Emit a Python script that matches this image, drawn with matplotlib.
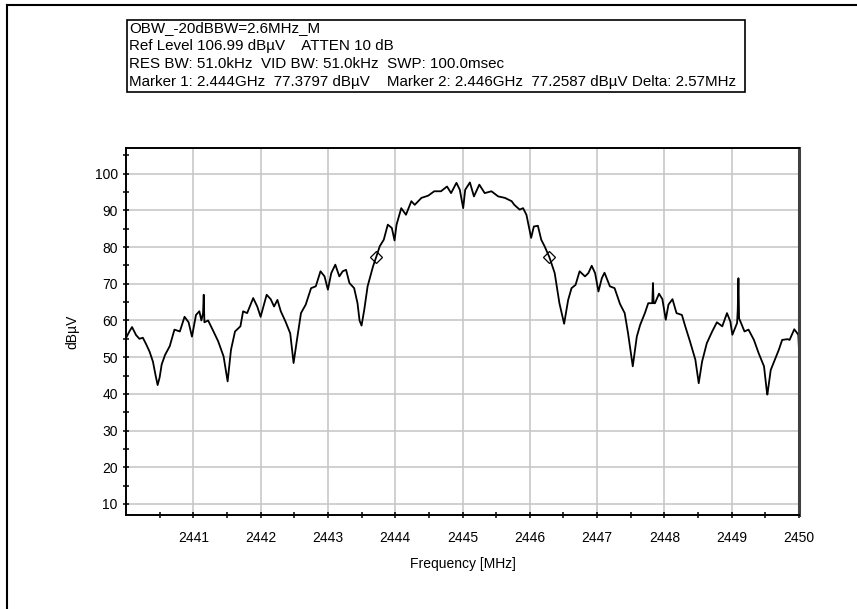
import matplotlib
matplotlib.use("Agg")
import matplotlib.pyplot as plt
from matplotlib.lines import Line2D
from matplotlib.patches import Rectangle
import numpy as np

plt.rcParams['font.family'] = ['Liberation Sans', 'DejaVu Sans']

# trace (MHz, dBuV)
freq_mhz = [
    2440.00, 2440.05, 2440.09, 2440.15, 2440.20, 2440.25, 2440.30, 2440.35, 2440.40, 2440.44,
    2440.47, 2440.50, 2440.53, 2440.58, 2440.65, 2440.72, 2440.80, 2440.87, 2440.93, 2440.98,
    2441.04, 2441.09, 2441.12, 2441.145, 2441.155, 2441.165, 2441.22, 2441.30, 2441.37, 2441.45,
    2441.51, 2441.56, 2441.62, 2441.70, 2441.74, 2441.80, 2441.89, 2441.95, 2442.00, 2442.09,
    2442.15, 2442.20, 2442.25, 2442.30, 2442.37, 2442.44, 2442.49, 2442.54, 2442.60, 2442.67,
    2442.75, 2442.82, 2442.89, 2442.95, 2443.00, 2443.05, 2443.11, 2443.17, 2443.22, 2443.27,
    2443.32, 2443.39, 2443.44, 2443.47, 2443.50, 2443.54, 2443.59, 2443.67, 2443.72, 2443.77,
    2443.83, 2443.89, 2443.95, 2443.99, 2444.02, 2444.09, 2444.16, 2444.24, 2444.29, 2444.39,
    2444.49, 2444.58, 2444.68, 2444.77, 2444.83, 2444.91, 2444.96, 2445.01, 2445.04, 2445.11,
    2445.17, 2445.25, 2445.33, 2445.43, 2445.53, 2445.63, 2445.73, 2445.77, 2445.85, 2445.90,
    2445.95, 2446.02, 2446.06, 2446.12, 2446.17, 2446.22, 2446.29, 2446.37, 2446.44, 2446.51,
    2446.57, 2446.62, 2446.68, 2446.74, 2446.82, 2446.87, 2446.92, 2446.97, 2447.02, 2447.07,
    2447.11, 2447.19, 2447.26, 2447.34, 2447.41, 2447.46, 2447.53, 2447.59, 2447.64, 2447.71,
    2447.76, 2447.82, 2447.83, 2447.84, 2447.86, 2447.92, 2447.97, 2448.02, 2448.06, 2448.12,
    2448.18, 2448.26, 2448.31, 2448.38, 2448.46, 2448.51, 2448.56, 2448.63, 2448.71, 2448.78,
    2448.86, 2448.93, 2448.98, 2449.01, 2449.08, 2449.09, 2449.10, 2449.11, 2449.13, 2449.19,
    2449.25, 2449.33, 2449.40, 2449.48, 2449.52, 2449.53, 2449.58, 2449.63, 2449.70, 2449.75,
    2449.83, 2449.86, 2449.93, 2449.99, 2450.00,
]
level_dbuv = [
    55.2, 57.0, 58.2, 56.0, 55.0, 55.3, 53.5, 51.5, 48.8, 45.0,
    42.4, 44.5, 48.0, 50.6, 53.0, 57.5, 57.0, 61.0, 59.5, 55.6,
    61.5, 62.5, 60.0, 62.0, 67.0, 59.5, 60.0, 57.0, 54.3, 50.2,
    43.4, 52.0, 57.0, 58.4, 62.5, 62.0, 66.1, 63.8, 61.0, 67.0,
    65.8, 63.8, 65.6, 62.5, 59.7, 56.5, 48.4, 54.7, 62.0, 64.3,
    68.8, 69.3, 73.4, 72.0, 68.4, 72.9, 75.2, 72.0, 73.4, 73.8,
    70.2, 68.8, 64.7, 60.0, 58.6, 62.9, 69.3, 74.7, 77.4, 80.2,
    82.0, 86.1, 85.2, 81.8, 86.1, 90.6, 88.8, 92.5, 91.5, 93.4,
    94.0, 95.2, 95.2, 96.5, 94.7, 97.5, 95.6, 90.6, 95.6, 97.6,
    93.8, 97.0, 94.7, 95.2, 93.8, 93.4, 92.5, 91.5, 90.2, 90.6,
    88.8, 82.5, 85.6, 85.8, 82.0, 80.2, 77.3, 72.9, 64.7, 59.1,
    65.6, 68.8, 69.7, 73.4, 72.0, 72.9, 74.9, 72.9, 67.9, 71.5,
    73.0, 69.3, 68.8, 64.5, 62.0, 56.5, 47.5, 55.6, 58.8, 62.0,
    64.7, 64.7, 70.2, 64.7, 64.7, 67.3, 65.8, 60.2, 64.3, 65.8,
    62.0, 61.5, 58.4, 54.3, 49.3, 42.9, 48.8, 53.8, 57.0, 59.5,
    58.4, 62.0, 59.7, 56.1, 59.3, 63.0, 71.5, 60.5, 59.7, 57.0,
    57.5, 54.7, 51.1, 47.5, 41.0, 39.8, 46.5, 48.8, 52.0, 54.7,
    54.9, 54.7, 57.6, 56.1, 52.0,
]

marker_freq = [2443.72, 2446.29]
marker_level = [77.38, 77.26]

info_lines = [
    "OBW_-20dBBW=2.6MHz_M",
    "Ref Level 106.99 dB\u00b5V    ATTEN 10 dB",
    "RES BW: 51.0kHz  VID BW: 51.0kHz  SWP: 100.0msec",
    "Marker 1: 2.444GHz  77.3797 dB\u00b5V    Marker 2: 2.446GHz  77.2587 dB\u00b5V Delta: 2.57MHz",
]

W, H = 857, 609
fig = plt.figure(figsize=(W / 100, H / 100), dpi=100, facecolor="white")

# outer frame (only left and top edges show in the crop)
fig.add_artist(Line2D([7 / W, 7 / W], [0, 1 - 5 / H], color="black", lw=1.5))
fig.add_artist(Line2D([7 / W, 1], [1 - 5 / H, 1 - 5 / H], color="black", lw=1.5))

# info box
fig.add_artist(Rectangle((127 / W, 1 - 92 / H), (745 - 127) / W, 72 / H,
                         transform=fig.transFigure, fill=False, ec="black", lw=1.2))
for i, line in enumerate(info_lines):
    fig.text(129 / W, 1 - (28 + 18 * i) / H, line, fontsize=10.9, va="center", ha="left")

ax = fig.add_axes([126 / W, 1 - 515 / H, (799 - 126) / W, (515 - 148) / H])
ax.plot(freq_mhz, level_dbuv, color="black", lw=1.3)
ax.plot(marker_freq, marker_level, ls="none", marker="D", ms=6.5,
        mfc="none", mec="black", mew=0.9)

ax.set_xlim(2440, 2450)
ax.set_ylim(6.99, 106.99)
ax.set_xticks(np.arange(2441, 2451, 1))
ax.set_xticks(np.arange(2440.5, 2450, 1), minor=True)
ax.set_yticks(np.arange(10, 101, 10))
ax.set_yticks(np.arange(15, 106, 10), minor=True)
ax.grid(True, which="major", color="#c8c8c8", lw=1.2)
ax.set_axisbelow(True)
ax.tick_params(which="both", direction="inout", length=5, width=1.1, labelsize=10)
ax.tick_params(axis="x", pad=9)

for side in ["left", "bottom", "top"]:
    ax.spines[side].set_linewidth(1.4)
ax.spines["right"].set_linewidth(2.2)
ax.spines["right"].set_color("#404040")

ax.set_xlabel("Frequency [MHz]", fontsize=10, labelpad=9)
ax.set_ylabel("dB\u00b5V", fontsize=10, labelpad=11)

fig.savefig("out.png", dpi=100)
